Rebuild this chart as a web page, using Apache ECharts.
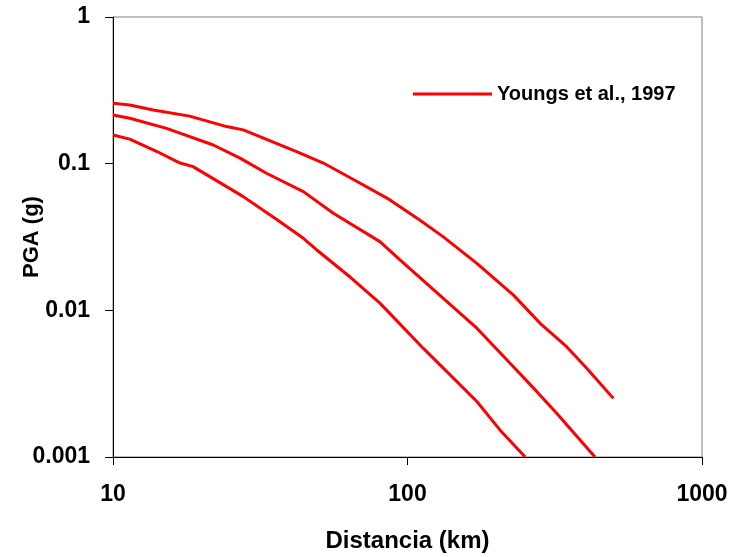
<!DOCTYPE html>
<html>
<head>
<meta charset="utf-8">
<script src="https://cdn.jsdelivr.net/npm/echarts@6/dist/echarts.min.js"></script>
<style>
  html, body { margin: 0; padding: 0; background: #fff; }
  #chart { width: 736px; height: 557px; }
</style>
</head>
<body>
<div id="chart"></div>
<script>
// curva superior (distancia km, PGA g)
var upperCurve = [
  [10, 0.258], [11.4, 0.251], [13.7, 0.232], [18.2, 0.211], [24.3, 0.179],
  [27.7, 0.170], [42.0, 0.121], [51.8, 0.101], [69.1, 0.0735], [87.2, 0.0566],
  [110, 0.0413], [132, 0.0318], [172, 0.0209], [229, 0.0127], [282, 0.00816],
  [347, 0.00565], [406, 0.00403], [500, 0.00251]
]
// curva media
var middleCurve = [
  [10, 0.215], [11.4, 0.204], [15.2, 0.174], [21.9, 0.134], [27.0, 0.109],
  [33.2, 0.086], [44.3, 0.0645], [56.0, 0.0459], [80.6, 0.0294], [94.3, 0.0221],
  [132, 0.0121], [172, 0.00755], [223, 0.00436], [275, 0.00279], [321, 0.00199],
  [433, 0.001]
]
// curva inferior
var lowerCurve = [
  [10, 0.157], [11.4, 0.147], [14.1, 0.121], [16.9, 0.101], [18.7, 0.0955],
  [24.3, 0.0697], [27.7, 0.0596], [36.9, 0.0402], [44.3, 0.031], [49.2, 0.0258],
  [64.0, 0.0168], [80.6, 0.0112], [113, 0.00552], [136, 0.00382], [172, 0.00239],
  [206, 0.00153], [251, 0.001]
]
var seriesName = 'Youngs et al., 1997'
var xTicks = [10, 100, 1000]
var yTicks = [0.001, 0.01, 0.1, 1]
var yTickLabels = ['0.001', '0.01', '0.1', '1']

var font = 'Liberation Sans, Arial, sans-serif'
var chart = echarts.init(document.getElementById('chart'))

function makeSeries(data) {
  return {
    name: seriesName,
    type: 'line',
    data: data,
    symbol: 'none',
    lineStyle: { color: '#ff0000', width: 3 },
    itemStyle: { color: '#ff0000' }
  }
}

chart.setOption({
  animation: false,
  grid: {
    left: 113,
    right: 34,
    top: 17,
    bottom: 100,
    outerBoundsMode: 'none',
    containLabel: false,
    show: true,
    borderColor: '#808080',
    borderWidth: 1
  },
  legend: {
    left: 408,
    top: 79,
    icon: 'rect',
    itemWidth: 79,
    itemHeight: 3,
    itemGap: 10,
    data: [seriesName],
    textStyle: { fontFamily: font, fontWeight: 'bold', fontSize: 20, color: '#000' }
  },
  xAxis: {
    type: 'log',
    logBase: 10,
    min: xTicks[0],
    max: xTicks[xTicks.length - 1],
    name: 'Distancia (km)',
    nameLocation: 'middle',
    nameGap: 72,
    nameMoveOverlap: false,
    nameTextStyle: { fontFamily: font, fontWeight: 'bold', fontSize: 24, color: '#000' },
    axisLine: { lineStyle: { color: '#000', width: 1 } },
    axisTick: { show: true, length: 8, lineStyle: { color: '#000' } },
    minorTick: { show: false },
    splitLine: { show: false },
    axisLabel: {
      margin: 26,
      fontFamily: font, fontWeight: 'bold', fontSize: 23, color: '#000',
      formatter: function (v) { return String(v) }
    }
  },
  yAxis: {
    type: 'log',
    logBase: 10,
    min: yTicks[0],
    max: yTicks[yTicks.length - 1],
    name: 'PGA (g)',
    nameLocation: 'middle',
    nameGap: 70,
    nameMoveOverlap: false,
    nameTextStyle: { fontFamily: font, fontWeight: 'bold', fontSize: 22, color: '#000' },
    axisLine: { show: true, lineStyle: { color: '#000', width: 1 } },
    axisTick: { show: true, length: 8, lineStyle: { color: '#000' } },
    splitLine: { show: false },
    axisLabel: {
      margin: 23,
      fontFamily: font, fontWeight: 'bold', fontSize: 23, color: '#000',
      formatter: function (v) {
        var i = Math.round(Math.log10(v)) + 3
        return yTickLabels[i] || String(v)
      }
    }
  },
  series: [makeSeries(upperCurve), makeSeries(middleCurve), makeSeries(lowerCurve)]
})
</script>
</body>
</html>
